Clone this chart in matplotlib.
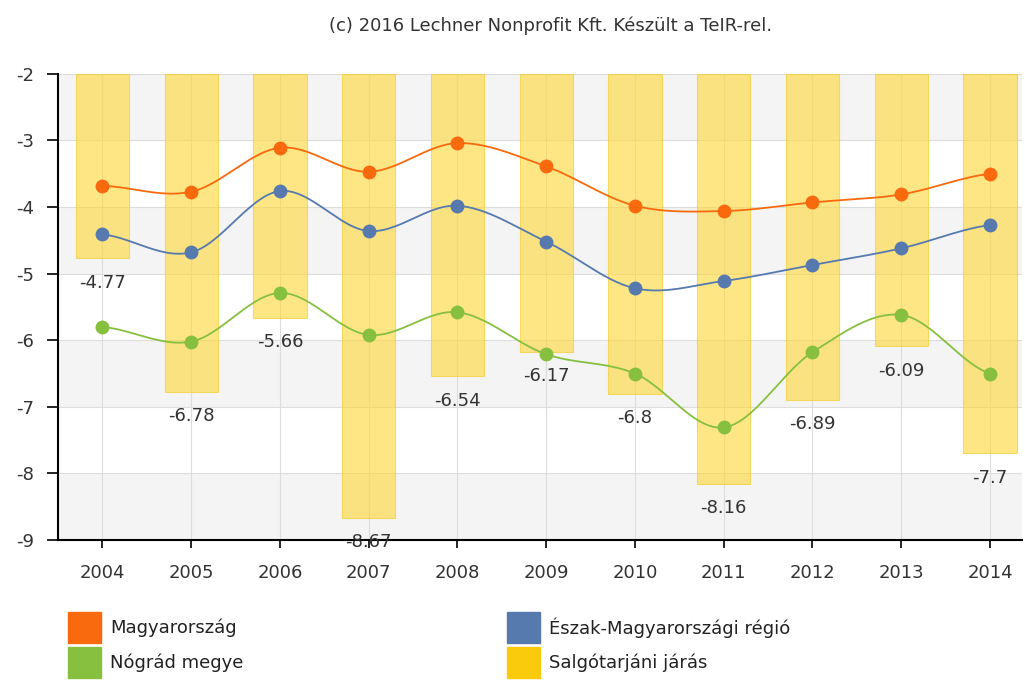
import numpy as np
import matplotlib
matplotlib.use("Agg")
import matplotlib.pyplot as plt
from matplotlib.patches import Rectangle

plt.rcParams["axes.unicode_minus"] = False

# adatok
evek = ["2004", "2005", "2006", "2007", "2008", "2009", "2010", "2011", "2012", "2013", "2014"]
magyarorszag = [-3.68, -3.77, -3.11, -3.47, -3.04, -3.39, -3.98, -4.06, -3.93, -3.81, -3.50]
eszak_regio = [-4.41, -4.68, -3.76, -4.36, -3.98, -4.52, -5.22, -5.11, -4.87, -4.62, -4.27]
nograd = [-5.80, -6.02, -5.29, -5.92, -5.58, -6.21, -6.50, -7.31, -6.18, -5.62, -6.50]
salgotarjan = [-4.77, -6.78, -5.66, -8.67, -6.54, -6.17, -6.8, -8.16, -6.89, -6.09, -7.7]
bar_labels = ["-4.77", "-6.78", "-5.66", "-8.67", "-6.54", "-6.17", "-6.8", "-8.16", "-6.89", "-6.09", "-7.7"]

NARANCS = "#F96A0E"
KEK = "#5679AE"
ZOLD = "#86C03E"
SARGA = "#FFD83A"
TEXT = "#333333"


def spline(x, y, n=30):
    # Catmull-Rom gorbe a pontokon keresztul
    x = np.asarray(x, float)
    y = np.asarray(y, float)
    px = np.concatenate([[2 * x[0] - x[1]], x, [2 * x[-1] - x[-2]]])
    py = np.concatenate([[y[0]], y, [y[-1]]])
    xs, ys = [], []
    t = np.linspace(0, 1, n)
    for i in range(1, len(px) - 2):
        for p, out in ((px, xs), (py, ys)):
            p0, p1, p2, p3 = p[i - 1], p[i], p[i + 1], p[i + 2]
            out.append(0.5 * ((2 * p1) + (-p0 + p2) * t + (2 * p0 - 5 * p1 + 4 * p2 - p3) * t ** 2
                              + (-p0 + 3 * p1 - 3 * p2 + p3) * t ** 3))
    return np.concatenate(xs), np.concatenate(ys)


fig = plt.figure(figsize=(10.25, 6.84), dpi=100)
ax = fig.add_axes([0.0566, 0.2105, 0.9404, 0.6815])

x = np.arange(len(evek))
ax.set_xlim(-0.5, 10.36)
ax.set_ylim(-9, -2)

# savos hatter
for lo in range(-9, -2):
    if lo in (-3, -5, -7, -9):
        ax.axhspan(lo, lo + 1, color="#F4F4F4", zorder=0, lw=0)
ax.grid(True, color="#DDDDDD", lw=0.8, zorder=0.5)
ax.set_axisbelow(True)

ax.bar(x, np.array(salgotarjan) + 2, bottom=-2, width=0.6, color=SARGA, alpha=0.62,
       edgecolor="#F2CB1C", lw=0.8, zorder=2)
for xi, v, lab in zip(x, salgotarjan, bar_labels):
    ax.annotate(lab, (xi, v), xytext=(0, -17.5), textcoords="offset points", ha="center",
                va="center", fontsize=13, color=TEXT, zorder=6, annotation_clip=False)

for vals, col in ((magyarorszag, NARANCS), (eszak_regio, KEK), (nograd, ZOLD)):
    sx, sy = spline(x, vals)
    ax.plot(sx, sy, color=col, lw=1.3, zorder=4)
    ax.plot(x, vals, "o", color=col, ms=10, mec="none", zorder=5)

ax.set_xticks(x)
ax.set_xticklabels(evek)
ax.set_yticks(range(-9, -1))
ax.tick_params(axis="both", labelsize=13, colors="black", labelcolor=TEXT, length=8,
               width=1.2, direction="out")
ax.tick_params(axis="x", pad=11, length=6)
ax.tick_params(axis="y", pad=9)
for s in ("top", "right"):
    ax.spines[s].set_visible(False)
for s in ("left", "bottom"):
    ax.spines[s].set_linewidth(1.5)
    ax.spines[s].set_color("black")

fig.text(0.537, 0.962, "(c) 2016 Lechner Nonprofit Kft. Készült a TeIR-rel.",
         ha="center", va="center", fontsize=13, color=TEXT, family="DejaVu Sans")

# jelmagyarazat
legend_items = [
    ("Magyarország", NARANCS, 68, 612),
    ("Nógrád megye", ZOLD, 68, 647),
    ("Észak-Magyarországi régió", KEK, 507, 612),
    ("Salgótarjáni járás", "#F9CB0C", 507, 647),
]
W, H = 1025.0, 684.0
for name, col, px0, py0 in legend_items:
    fig.patches.append(Rectangle((px0 / W, 1 - (py0 + 31) / H), 33 / W, 31 / H,
                                 transform=fig.transFigure, color=col))
    fig.text((px0 + 42) / W, 1 - (py0 + 16) / H, name, ha="left", va="center",
             fontsize=13, color="#222222")

fig.savefig("out.png", dpi=100)
